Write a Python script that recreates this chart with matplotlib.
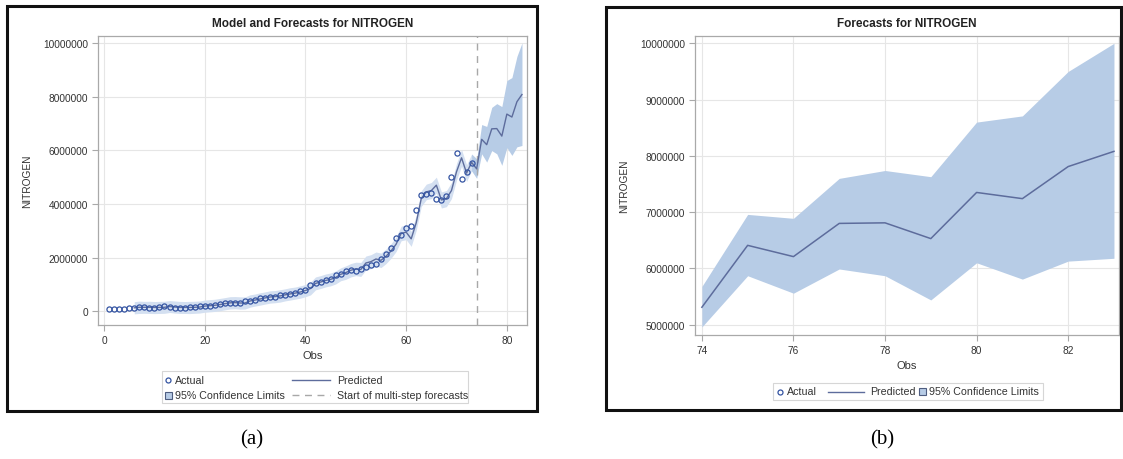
import matplotlib
matplotlib.use("Agg")
import matplotlib.pyplot as plt
from matplotlib.patches import Rectangle
from matplotlib.lines import Line2D

plt.rcParams["font.family"] = ["Liberation Sans", "DejaVu Sans"]

# ---------------- data ----------------
obs_actual = list(range(1, 74))
actual = [
    80000, 85000, 95000, 100000, 105000, 140000, 145000, 145000, 140000, 140000,
    145000, 185000, 150000, 140000, 140000, 140000, 145000, 150000, 185000, 200000,
    215000, 240000, 270000, 300000, 310000, 300000, 295000, 370000, 400000, 440000,
    480000, 510000, 525000, 550000, 590000, 620000, 650000, 690000, 740000, 800000,
    990000, 1050000, 1110000, 1150000, 1210000, 1340000, 1400000, 1490000, 1540000, 1520000,
    1580000, 1640000, 1710000, 1770000, 1950000, 2120000, 2360000, 2750000, 2830000, 3090000,
    3170000, 3770000, 4330000, 4370000, 4420000, 4180000, 4140000, 4300000, 5020000, 5900000,
    4930000, 5200000, 5530000,
]

# one-step-ahead predictions and limits (obs 6..73)
obs_fit = list(range(6, 74))
pred_fit = [
    130000, 150000, 150000, 150000, 145000, 145000, 150000, 180000, 160000, 145000,
    145000, 145000, 150000, 160000, 195000, 210000, 225000, 250000, 285000, 315000,
    325000, 310000, 310000, 385000, 420000, 460000, 500000, 535000, 550000, 575000,
    615000, 650000, 680000, 720000, 775000, 850000, 1040000, 1090000, 1150000, 1190000,
    1260000, 1380000, 1440000, 1530000, 1580000, 1560000, 1800000, 1850000, 1950000, 1900000,
    2050000, 2250000, 2500000, 2900000, 2950000, 2700000, 3300000, 4200000, 4450000, 4500000,
    4700000, 4150000, 4200000, 4500000, 5200000, 5720000, 5150000, 5550000,
]
upper_fit = [
    360000, 380000, 370000, 375000, 365000, 370000, 375000, 400000, 385000, 370000,
    365000, 370000, 375000, 385000, 420000, 435000, 450000, 480000, 510000, 545000,
    550000, 540000, 535000, 615000, 645000, 690000, 725000, 765000, 775000, 805000,
    840000, 880000, 905000, 950000, 1000000, 1090000, 1280000, 1330000, 1390000, 1430000,
    1500000, 1620000, 1690000, 1780000, 1830000, 1820000, 2060000, 2110000, 2210000, 2170000,
    2320000, 2520000, 2770000, 3170000, 3230000, 2980000, 3580000, 4490000, 4740000, 4800000,
    5000000, 4450000, 4500000, 4800000, 5510000, 6030000, 5460000, 5860000,
]
lower_fit = [
    -95000, -80000, -75000, -80000, -85000, -80000, -75000, -45000, -65000, -80000,
    -80000, -85000, -75000, -65000, -35000, -20000, -5000, 20000, 55000, 85000,
    95000, 80000, 85000, 155000, 195000, 230000, 270000, 305000, 320000, 345000,
    390000, 420000, 455000, 490000, 545000, 610000, 800000, 850000, 910000, 950000,
    1020000, 1140000, 1190000, 1280000, 1330000, 1300000, 1540000, 1590000, 1690000, 1630000,
    1780000, 1980000, 2230000, 2630000, 2670000, 2420000, 3020000, 3910000, 4160000, 4200000,
    4400000, 3850000, 3900000, 4200000, 4890000, 5410000, 4840000, 5240000,
]

# multi-step forecasts (obs 74..83)
obs_fc = list(range(74, 84))
pred_fc = [5310000, 6410000, 6210000, 6800000, 6810000, 6530000, 7350000, 7240000, 7810000, 8080000]
upper_fc = [5680000, 6960000, 6890000, 7600000, 7740000, 7630000, 8600000, 8710000, 9500000, 10000000]
lower_fc = [4960000, 5870000, 5560000, 5990000, 5870000, 5440000, 6100000, 5810000, 6130000, 6180000]

forecast_start = 74

xticks_a = [0, 20, 40, 60, 80]
yticks_a = [0, 2000000, 4000000, 6000000, 8000000, 10000000]
xticks_b = [74, 76, 78, 80, 82]
yticks_b = [5000000, 6000000, 7000000, 8000000, 9000000, 10000000]

# ---------------- style ----------------
W, H = 1123, 460
BAND = "#B7CCE6"
BAND_FIT = "#D4E0F1"
MARK = "#3454A2"
LINE = "#5D6C9C"
GRID = "#E6E6E6"
SPINE = "#A9A9A9"
TXT = "#333333"
DASH = "#A8A8A8"
FS = 7.3
LEG_FS = 7.7

fig = plt.figure(figsize=(W / 100, H / 100), dpi=100)


def fx(x):
    return x / W


def fy(y):
    return 1 - y / H


def px_axes(left, top, right, bottom):
    return fig.add_axes([fx(left), fy(bottom), (right - left) / W, (bottom - top) / H])


def style(ax, xticks, yticks, title):
    ax.set_xticks(xticks)
    ax.set_yticks(yticks)
    ax.set_yticklabels([str(v) for v in yticks])
    ax.grid(True, color=GRID, lw=0.8)
    ax.set_axisbelow(True)
    for s in ax.spines.values():
        s.set_color(SPINE)
        s.set_linewidth(0.9)
    ax.tick_params(colors=SPINE, labelcolor=TXT, labelsize=FS, length=4, width=0.8, pad=3)
    ax.set_title(title, fontsize=8.5, fontweight="bold", color="#222222", pad=7)
    ax.set_xlabel("Obs", fontsize=8, color=TXT, labelpad=4)
    ax.set_ylabel("NITROGEN", fontsize=FS, color=TXT, labelpad=8)


# legend pieces drawn in figure pixel positions
def leg_box(l, t, r, b):
    fig.patches.append(Rectangle((fx(l), fy(b)), (r - l) / W, (b - t) / H,
                                 transform=fig.transFigure, facecolor="white",
                                 edgecolor="#D6D6D6", lw=0.8, zorder=5))


def leg_marker(x, y):
    fig.lines.append(Line2D([fx(x)], [fy(y)], transform=fig.transFigure, ls="none",
                            marker="o", ms=3.6, mfc="none", mec=MARK, mew=0.9, zorder=6))


def leg_line(x0, x1, y, **kw):
    fig.lines.append(Line2D([fx(x0), fx(x1)], [fy(y), fy(y)], transform=fig.transFigure,
                            zorder=6, **kw))


def leg_square(x, y, s=7):
    fig.patches.append(Rectangle((fx(x - s / 2), fy(y + s / 2)), s / W, s / H,
                                 transform=fig.transFigure, facecolor=BAND,
                                 edgecolor="#4E5D80", lw=0.8, zorder=6))


def leg_text(x, y, s):
    fig.text(fx(x), fy(y), s, fontsize=LEG_FS, color=TXT, ha="left", va="center", zorder=7)


# ---------------- panel (a) ----------------
ax1 = px_axes(98, 37, 527, 326)
ax1.fill_between(obs_fit + obs_fc[:1], lower_fit + lower_fc[:1], upper_fit + upper_fc[:1],
                 color=BAND_FIT, lw=0, zorder=1)
ax1.fill_between(obs_fit[-1:] + obs_fc, lower_fit[-1:] + lower_fc, upper_fit[-1:] + upper_fc,
                 color=BAND, lw=0, zorder=1)
ax1.plot(obs_fit + obs_fc, pred_fit + pred_fc, color=LINE, lw=1.0, zorder=3)
ax1.plot(obs_actual, actual, ls="none", marker="o", ms=3.7, mfc="none", mec=MARK, mew=0.9, zorder=4)
ax1.axvline(forecast_start, color=DASH, lw=1.0, ls=(0, (5, 4)), zorder=2)
ax1.set_xlim(-1.2, 84)
ax1.set_ylim(-510000, 10260000)
style(ax1, xticks_a, yticks_a, "Model and Forecasts for NITROGEN")

leg_box(162, 372, 468, 404)
leg_marker(168, 381)
leg_text(175, 381, "Actual")
leg_square(168, 396)
leg_text(175, 396, "95% Confidence Limits")
leg_line(292, 330, 381, color=LINE, lw=1.0)
leg_text(337, 381, "Predicted")
leg_line(292, 330, 396, color=DASH, lw=1.0, ls=(0, (5, 4)))
leg_text(337, 396, "Start of multi-step forecasts")

# ---------------- panel (b) ----------------
ax2 = px_axes(695, 37, 1119, 336)
ax2.fill_between(obs_fc, lower_fc, upper_fc, color=BAND, lw=0, zorder=1)
ax2.plot(obs_fc, pred_fc, color=LINE, lw=1.1, zorder=3)
ax2.set_xlim(73.85, 83.11)
ax2.set_ylim(4817000, 10130000)
style(ax2, xticks_b, yticks_b, "Forecasts for NITROGEN")

leg_box(773, 384, 1043, 401)
leg_marker(780, 392.5)
leg_text(787, 392.5, "Actual")
leg_line(828, 864, 392.5, color=LINE, lw=1.0)
leg_text(870, 392.5, "Predicted")
leg_square(922, 392.5)
leg_text(929, 392.5, "95% Confidence Limits")

# ---------------- outer frames and panel labels ----------------
for (l, t, r, b) in [(7, 7, 537, 412), (606, 8, 1121, 411)]:
    fig.patches.append(Rectangle((fx(l), fy(b)), (r - l) / W, (b - t) / H,
                                 transform=fig.transFigure, fill=False,
                                 edgecolor="#111111", lw=2.2))

fig.text(fx(252), fy(440), "(a)", ha="center", va="center",
         fontsize=15, family=["Liberation Serif", "DejaVu Serif"])
fig.text(fx(882), fy(440), "(b)", ha="center", va="center",
         fontsize=15, family=["Liberation Serif", "DejaVu Serif"])

fig.savefig("out.png", dpi=100, facecolor="white")
